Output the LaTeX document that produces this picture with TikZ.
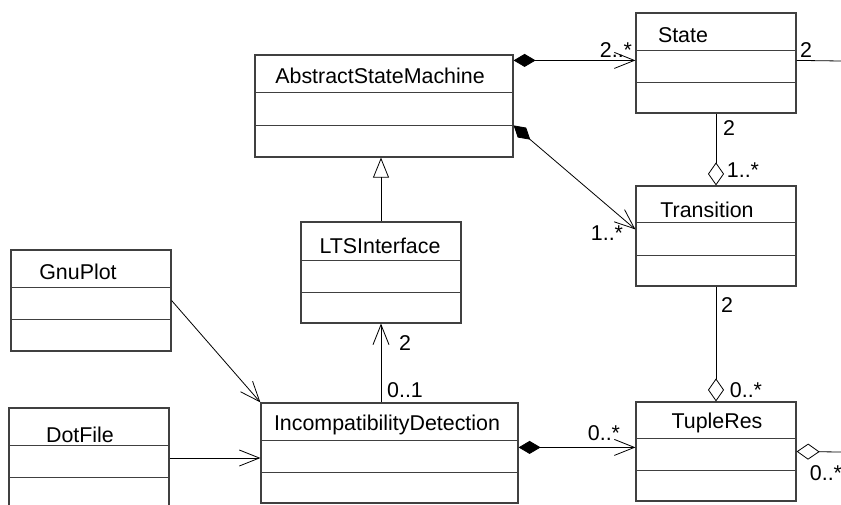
\documentclass[tikz,border=0pt]{standalone}
\usepackage{fontspec}
\setmainfont{Liberation Sans}
\usetikzlibrary{positioning,arrows.meta}

\begin{document}
\begin{tikzpicture}[
  x=1pt, y=-1pt,
  font=\fontsize{21.4}{25}\selectfont,
  umlclass/.style={
    draw=black!75, line width=1.2pt,
    minimum width=160pt, minimum height=100pt,
    inner sep=0pt,
  },
  cname/.style={anchor=base, inner sep=0pt},
  ann/.style={anchor=base, inner sep=0pt},
  assoc/.style={-{Straight Barb[length=20pt,width=16pt]}, line width=0.8pt},
  compo/.style={{Diamond[length=22pt,width=13pt]}-{Straight Barb[length=20pt,width=16pt]}, line width=0.8pt},
  aggr/.style={-{Diamond[open,length=23pt,width=16pt]}, line width=0.8pt},
  inherit/.style={-{Triangle[open,length=20pt,width=16pt]}, line width=0.8pt},
]
\clip (0,0) rectangle (841,504);

% classes
\node[umlclass, minimum width=258pt, minimum height=102pt] (asm) at (384,106) {};
\node[umlclass] (state) at (716,63) {};
\node[umlclass] (trans) at (716,236) {};
\node[umlclass, minimum height=99pt] (tuple) at (716,451.5) {};
\node[umlclass, minimum width=257pt] (incdet) at (389.5,453) {};
\node[umlclass, minimum height=101pt] (lts) at (381,272.5) {};
\node[umlclass, minimum height=101pt] (gnu) at (91,300.5) {};
\node[umlclass] (dot) at (89,458) {};

\foreach \c/\a/\b in {asm/38/71, state/38/70, trans/37/70, tuple/37/69,
                      incdet/38/70, lts/39/71, gnu/38/70, dot/38/70}
  \draw[black!75, line width=1.2pt]
    ([yshift=-\a pt]\c.north west) -- ([yshift=-\a pt]\c.north east)
    ([yshift=-\b pt]\c.north west) -- ([yshift=-\b pt]\c.north east);

\node[cname] (asmname) at (380,83) {AbstractStateMachine};
\node[cname] (statename) at (683,42) {State};
\node[cname] (transname) at (707,217) {Transition};
\node[cname] (tuplename) at (717,428) {TupleRes};
\node[cname] (ltsname) at (380,253) {LTSInterface};
\node[cname] (incdetname) at (387,430) {IncompatibilityDetection};
\node[cname] (gnuname) at (78,279) {GnuPlot};
\node[cname] (dotname) at (80,442) {DotFile};

% connectors
\coordinate (asmtop) at ([yshift=-6pt]asm.north east);
\coordinate (incright) at ([yshift=-45pt]incdet.north east);
\coordinate (stateout) at (841,61);
\coordinate (tupleout) at (841,452);

\draw[compo] (asmtop) -- (asmtop -| state.west);
\draw[compo] ([yshift=-71pt]asm.north east) -- ([yshift=-44pt]trans.north west);
\draw[line width=0.8pt] ([yshift=-48pt]state.north east) -- (stateout);
\draw[aggr] (state.south) -- (trans.north);
\draw[aggr] (trans.south) -- (tuple.north);
\draw[compo] (incright) -- (incright -| tuple.west);
\draw[aggr] (tupleout) -- (tuple.east);
\draw[assoc] (gnu.east) -- (incdet.north west);
\draw[assoc] (dot.east) -- (dot.east -| incdet.west);
\draw[assoc] (incdet.north -| lts.south) -- (lts.south);
\draw[inherit] (lts.north) -- (lts.north |- asm.south);

% multiplicities
\node[ann] (m1) at (616,57) {2..*};
\node[ann] (m2) at (806,57) {2};
\node[ann] (m3) at (729,135) {2};
\node[ann] (m4) at (743,177) {1..*};
\node[ann] (m5) at (607,240) {1..*};
\node[ann] (m6) at (727,312) {2};
\node[ann] (m7) at (746,397) {0..*};
\node[ann] (m8) at (604,440) {0..*};
\node[ann] (m9) at (826,480) {0..*};
\node[ann] (m10) at (405,350) {2};
\node[ann] (m11) at (405,397) {0..1};

\end{tikzpicture}
\end{document}
